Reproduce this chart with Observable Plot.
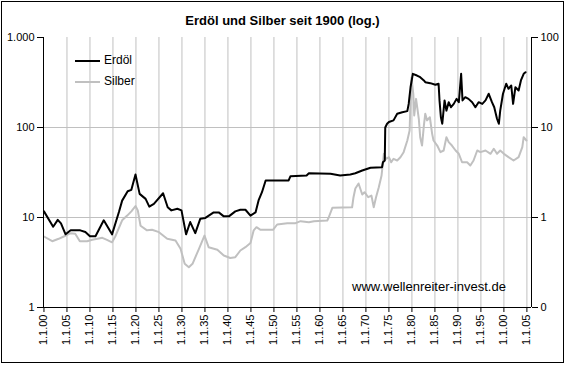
<!DOCTYPE html>
<html><head><meta charset="utf-8">
<script src="https://cdn.jsdelivr.net/npm/d3@7"></script>
<script src="https://cdn.jsdelivr.net/npm/@observablehq/plot@0.6"></script>
<style>
body{margin:0;background:#fff;}
#wrap{position:relative;width:565px;height:365px;font-family:"Liberation Sans",Arial,sans-serif;color:#000;}
#border{position:absolute;left:1px;top:1px;width:561px;height:360px;border:1px solid #000;pointer-events:none;}
#title{position:absolute;left:0;width:565px;top:13px;text-align:center;font-weight:bold;font-size:13px;}
#legend{position:absolute;left:75px;top:50px;font-size:12px;line-height:21px;}
#legend .it{display:flex;align-items:center;}
#legend .sw{display:inline-block;width:25px;height:2px;margin-right:4px;}
#credit{position:absolute;left:352px;top:279px;font-size:13px;}
</style></head>
<body>
<div id="wrap">
<div id="chart"></div>
<div id="title"></div>
<div id="legend"></div>
<div id="credit"></div>
<div id="border"></div>
</div>
<script>
const title = "Erdöl und Silber seit 1900 (log.)";
const credit = "www.wellenreiter-invest.de";
const seriesNames = ["Erdöl", "Silber"];
const seriesColors = ["#000000", "#c0c0c0"];

const oilYear = [1900.0,1902.0,1903.0,1903.7,1904.7,1905.8,1907.9,1909.0,1910.0,1911.2,
1913.0,1914.8,1916.3,1917.0,1918.2,1919.0,1919.9,1920.8,1922.1,1922.9,
1923.9,1925.9,1926.9,1927.7,1929.0,1929.9,1930.9,1931.8,1932.9,1934.0,
1935.1,1936.9,1938.0,1939.1,1940.2,1941.6,1942.7,1943.8,1944.9,1946.0,
1946.7,1947.4,1948.2,1953.2,1953.6,1957.1,1957.6,1962.3,1964.4,1966.6,
1967.7,1969.2,1971.0,1973.5,1973.7,1974.1,1974.2,1974.6,1975.0,1976.0,
1976.8,1977.9,1979.0,1979.3,1979.7,1980.2,1981.1,1981.8,1982.6,1982.9,
1984.0,1985.1,1985.8,1986.0,1986.3,1986.6,1987.1,1987.5,1988.0,1988.5,
1989.1,1989.7,1990.2,1990.7,1991.0,1991.6,1992.3,1993.1,1993.8,1994.5,
1995.3,1996.0,1996.7,1997.4,1997.9,1998.5,1998.9,1999.2,1999.8,2000.5,
2001.0,2001.6,2002.0,2002.5,2003.2,2003.7,2004.3,2004.7];
const oilValue = [11.7,7.9,9.4,8.6,6.5,7.2,7.2,6.9,6.2,6.2,
9.3,6.5,11.5,15.4,19.6,20.3,30,18.3,16.1,13.2,
14.2,18.6,13.0,12.0,12.5,12.0,6.5,8.9,6.7,9.7,
9.9,11.4,11.4,10.3,10.3,11.7,12.2,12.2,10.5,11.4,
15.7,19.1,25.8,25.8,28.8,29.3,31,30.6,29.3,30,
31,33.3,35.7,36.2,41.1,43,100,110,115,120,
142,148,152,183,280,395,378,362,333,319,
311,298,306,200,130,110,200,154,191,168,
183,208,191,395,200,217,208,191,168,191,
183,200,237,191,168,125,110,154,237,306,
269,293,183,280,258,333,395,411];

const silverYear = [1900.0,1901.8,1903.2,1904.3,1905.8,1906.8,1907.8,1909.4,1910.5,1911.6,
1912.7,1913.7,1914.8,1915.5,1917.0,1918.1,1919.0,1919.9,1920.4,1921.0,
1922.4,1923.5,1925.0,1926.8,1928.6,1929.7,1930.6,1931.5,1932.3,1933.7,
1934.9,1935.8,1937.7,1939.1,1940.5,1941.6,1942.7,1943.8,1944.9,1945.6,
1946.2,1947.1,1949.8,1950.7,1952.9,1954.7,1955.8,1957.6,1958.7,1961.6,
1961.9,1962.7,1967.0,1967.3,1967.7,1968.4,1969.2,1969.7,1970.5,1971.2,
1971.7,1972.2,1972.8,1973.4,1973.9,1974.4,1975.0,1975.5,1976.0,1976.8,
1977.5,1978.2,1979.0,1979.5,1979.7,1979.9,1980.3,1980.5,1980.9,1981.5,
1981.8,1982.2,1982.6,1982.9,1983.3,1983.9,1984.4,1984.7,1985.5,1986.2,
1986.9,1987.5,1988.0,1988.7,1989.5,1990.2,1990.9,1992.0,1992.7,1993.4,
1994.2,1994.9,1996.0,1997.1,1997.8,1998.5,1999.2,2000.0,2001.0,2002.1,
2003.2,2004.0,2004.3,2004.9];
const silverValue = [0.615,0.545,0.58,0.615,0.67,0.66,0.545,0.545,0.565,0.58,
0.595,0.565,0.53,0.615,0.93,1.05,1.17,1.34,1.2,0.81,
0.72,0.73,0.687,0.58,0.555,0.449,0.306,0.28,0.306,0.449,
0.63,0.468,0.438,0.378,0.355,0.362,0.43,0.468,0.52,0.72,
0.78,0.73,0.73,0.836,0.865,0.865,0.91,0.887,0.91,0.926,
1.0,1.28,1.30,1.68,2.1,2.39,1.8,1.91,1.68,1.75,
1.3,1.68,2.17,2.93,5.1,4.49,4.68,4.11,4.49,4.3,
4.68,5.32,7.17,9.26,20,35.9,23.7,13.6,20.8,12.5,
7.8,6.3,10.5,14.2,12,13,8.5,7.17,6.3,5.32,
5.55,7.8,6.87,6.3,5.55,5.1,4.11,4.11,3.78,4.3,
5.55,5.32,5.55,5.1,5.8,5.1,5.55,5.1,4.68,4.3,
4.68,6.04,7.8,7.17];

const xTicks = [1900,1905,1910,1915,1920,1925,1930,1935,1940,1945,1950,1955,1960,1965,1970,1975,1980,1985,1990,1995,2000,2005];
const xTickLabels = ["1.1.00","1.1.05","1.1.10","1.1.15","1.1.20","1.1.25","1.1.30","1.1.35","1.1.40","1.1.45","1.1.50","1.1.55","1.1.60","1.1.65","1.1.70","1.1.75","1.1.80","1.1.85","1.1.90","1.1.95","1.1.00","1.1.05"];
const leftTicks = [1, 10, 100, 1000];
const leftTickLabels = ["1", "10", "100", "1.000"];
const rightTicks = [0.1, 1, 10, 100];
const rightTickLabels = ["0", "1", "10", "100"];
const xDomain = [1899.9, 2006.0];
const leftDomain = [1, 1000];
// right (silver) axis spans 0.1..100 against left 1..1000
const silverToLeft = leftDomain[0] / rightTicks[0];

const oil = oilYear.map((yr, i) => ({year: yr, value: oilValue[i]}));
const silver = silverYear.map((yr, i) => ({year: yr, value: silverValue[i] * silverToLeft}));
const rightTicksOnLeft = rightTicks.map(t => t * silverToLeft);

const chart = Plot.plot({
  width: 565, height: 365,
  marginLeft: 43, marginRight: 34, marginTop: 37, marginBottom: 58,
  style: {fontFamily: "'Liberation Sans', Arial, sans-serif", fontSize: "11px", color: "#000", background: "transparent"},
  x: {type: "linear", domain: xDomain, label: null},
  y: {type: "log", domain: leftDomain, label: null},
  marks: [
    Plot.gridX(xTicks.slice(1), {stroke: "#c0c0c0", strokeOpacity: 1}),
    Plot.gridY([10, 100], {stroke: "#c0c0c0", strokeOpacity: 1}),
    Plot.line(silver, {x: "year", y: "value", stroke: seriesColors[1], strokeWidth: 2}),
    Plot.line(oil, {x: "year", y: "value", stroke: seriesColors[0], strokeWidth: 2}),
    Plot.ruleX(xDomain, {stroke: "#000"}),
    Plot.ruleY([leftDomain[0]], {stroke: "#000"}),
    Plot.axisY(leftTicks, {anchor: "left", tickSize: 6, tickPadding: 3, label: null,
      tickFormat: d => leftTickLabels[leftTicks.indexOf(d)]}),
    Plot.axisY(rightTicksOnLeft, {anchor: "right", tickSize: 6, tickPadding: 3, label: null,
      tickFormat: d => rightTickLabels[rightTicksOnLeft.indexOf(d)]}),
    Plot.axisX(xTicks, {anchor: "bottom", tickSize: 5, tickPadding: 2, tickRotate: -90, label: null,
      tickFormat: d => xTickLabels[xTicks.indexOf(d)]})
  ]
});
document.getElementById("chart").append(chart);

document.getElementById("title").textContent = title;
document.getElementById("credit").textContent = credit;
const legend = document.getElementById("legend");
seriesNames.forEach((n, i) => {
  const it = document.createElement("div");
  it.className = "it";
  const sw = document.createElement("span");
  sw.className = "sw";
  sw.style.background = seriesColors[i];
  const tx = document.createElement("span");
  tx.textContent = n;
  it.append(sw, tx);
  legend.append(it);
});
</script>
</body></html>
